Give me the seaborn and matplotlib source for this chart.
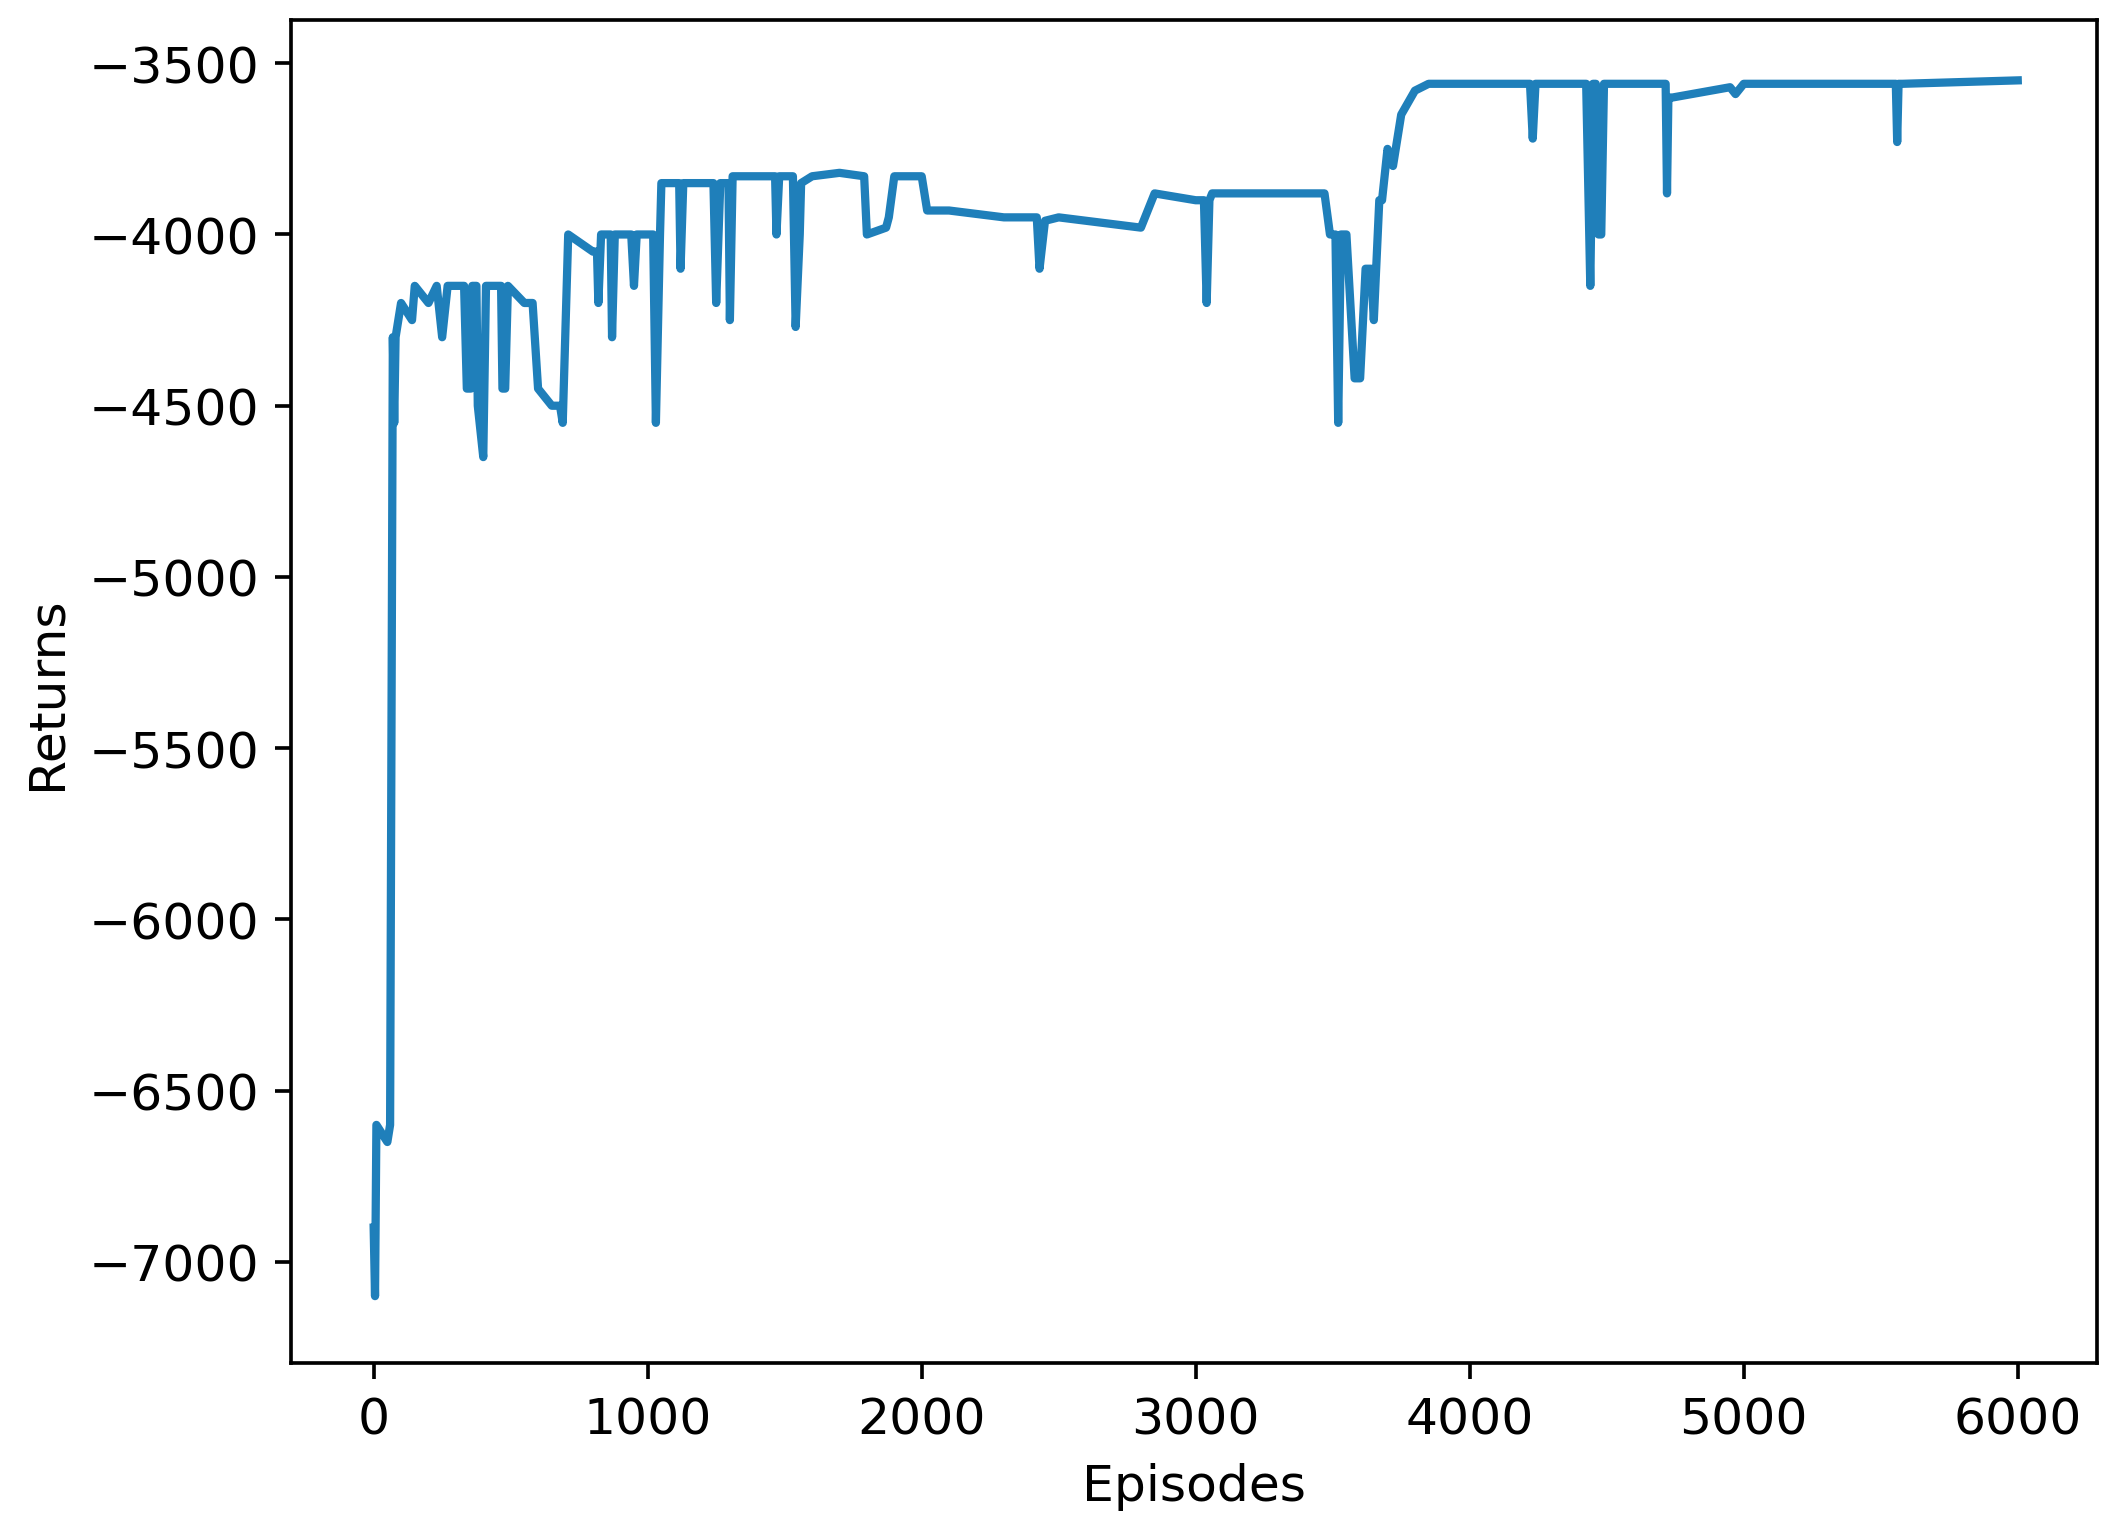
import numpy as np
import pandas as pd
import matplotlib
matplotlib.use("Agg")
import matplotlib.pyplot as plt
import seaborn as sns

# values (episode, return)
episodes = [0, 5, 10, 50, 60, 70, 75, 80, 100, 140, 150, 200, 230, 250, 270, 300, 330, 340,
            355, 360, 375, 380, 400, 410, 450, 465, 470, 480, 490, 550, 580, 600, 650, 680,
            690, 710, 800, 815, 820, 830, 850, 865, 870, 880, 900, 940, 950, 960, 1000, 1020,
            1030, 1045, 1050, 1100, 1115, 1120, 1130, 1150, 1200, 1240, 1250, 1265, 1280,
            1295, 1300, 1310, 1320, 1450, 1465, 1470, 1480, 1500, 1530, 1540, 1555, 1560,
            1600, 1700, 1790, 1800, 1870, 1880, 1900, 2000, 2020, 2100, 2300, 2400, 2420,
            2430, 2450, 2500, 2700, 2800, 2850, 3000, 3030, 3040, 3050, 3060, 3400, 3470,
            3490, 3510, 3520, 3530, 3550, 3580, 3600, 3620, 3640, 3650, 3670, 3680, 3700,
            3720, 3750, 3800, 3850, 4000, 4220, 4230, 4240, 4250, 4425, 4440, 4450, 4460,
            4470, 4480, 4490, 4500, 4700, 4715, 4720, 4725, 4740, 4950, 4970, 5000, 5545,
            5555, 5560, 5565, 5580, 6000]
returns = [-6900, -7100, -6600, -6650, -6600, -4300, -4550, -4300, -4200, -4250, -4150,
           -4200, -4150, -4300, -4150, -4150, -4150, -4450, -4450, -4150, -4150, -4500,
           -4650, -4150, -4150, -4150, -4450, -4450, -4150, -4200, -4200, -4450, -4500,
           -4500, -4550, -4000, -4050, -4050, -4200, -4000, -4000, -4000, -4300, -4000,
           -4000, -4000, -4150, -4000, -4000, -4000, -4550, -4000, -3850, -3850, -3850,
           -4100, -3850, -3850, -3850, -3850, -4200, -3850, -3850, -3850, -4250, -3830,
           -3830, -3830, -3830, -4000, -3830, -3830, -3830, -4270, -4000, -3850, -3830,
           -3820, -3830, -4000, -3980, -3950, -3830, -3830, -3930, -3930, -3950, -3950,
           -3950, -4100, -3960, -3950, -3970, -3980, -3880, -3900, -3900, -4200, -3900,
           -3880, -3880, -3880, -4000, -4000, -4550, -4000, -4000, -4420, -4420, -4100,
           -4100, -4250, -3900, -3900, -3750, -3800, -3650, -3580, -3560, -3560, -3560,
           -3720, -3560, -3560, -3560, -4150, -3560, -3560, -4000, -4000, -3560, -3560,
           -3560, -3560, -3880, -3600, -3600, -3570, -3590, -3560, -3560, -3560, -3730,
           -3560, -3560, -3550]

df = pd.DataFrame({"Episodes": episodes, "Returns": returns})

plt.rcParams["font.size"] = 11
fig = plt.figure(figsize=(6.4, 4.624), dpi=330)
ax = fig.add_axes([0.138, 0.106, 0.855, 0.88])
sns.lineplot(data=df, x="Episodes", y="Returns", estimator=None, color="#1f7fba",
             linewidth=1.8, ax=ax)
ax.set_xlim(-300, 6290)
ax.set_ylim(-7296, -3375)
ax.set_yticks(np.arange(-7000, -3499, 500))
ax.set_xlabel("Episodes")
ax.set_ylabel("Returns")
fig.savefig("out.png", dpi=330)
